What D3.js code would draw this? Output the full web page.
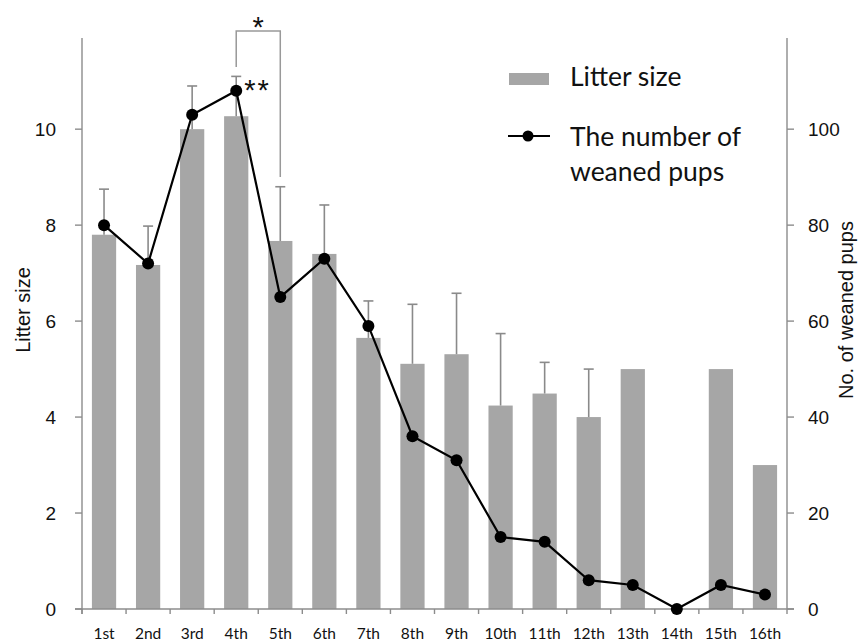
<!DOCTYPE html>
<html>
<head>
<meta charset="utf-8">
<script src="https://cdn.jsdelivr.net/npm/d3@7"></script>
<style>
  html, body { margin: 0; padding: 0; background: #fff; }
  svg { display: block; }
</style>
</head>
<body>
<svg id="chart" width="864" height="641"></svg>
<script>
// ---- data ----
const categories = ["1st","2nd","3rd","4th","5th","6th","7th","8th","9th","10th","11th","12th","13th","14th","15th","16th"];
const litterSize = [7.8, 7.17, 10.0, 10.27, 7.67, 7.4, 5.65, 5.11, 5.31, 4.24, 4.49, 4.0, 5.0, null, 5.0, 3.0];
const litterErr  = [0.95, 0.81, 0.9, 0.83, 1.13, 1.02, 0.77, 1.24, 1.27, 1.5, 0.65, 1.0, 0, 0, 0, 0];
const weanedPups = [80, 72, 103, 108, 65, 73, 59, 36, 31, 15, 14, 6, 5, 0, 5, 3];
const leftTicks  = [0, 2, 4, 6, 8, 10];
const rightTicks = [0, 20, 40, 60, 80, 100];
const legendLabels = ["Litter size", "The number of", "weaned pups"];

// ---- layout ----
const svg = d3.select("#chart");
const X0 = 82, X1 = 787, Y0 = 609, YT = 38;
const x = d3.scaleBand().domain(categories).range([X0, X1]).padding(0);
const yL = d3.scaleLinear().domain([0, 11.9]).range([Y0, YT]);
const yR = d3.scaleLinear().domain([0, 119]).range([Y0, YT]);
const barW = x.bandwidth() * 0.55;
const axisColor = "#8c8c8c";
const numFont = "'Liberation Sans', Arial, sans-serif";
const calFont = "Lato, 'Open Sans', sans-serif";

// bars
svg.append("g").selectAll("rect")
  .data(categories.map((c, i) => ({c, v: litterSize[i]})).filter(d => d.v !== null))
  .join("rect")
  .attr("x", d => x(d.c) + x.bandwidth()/2 - barW/2)
  .attr("y", d => yL(d.v))
  .attr("width", barW)
  .attr("height", d => Y0 - yL(d.v))
  .attr("fill", "#a6a6a6");

// error bars
const eg = svg.append("g").attr("stroke", "#8a8a8a").attr("stroke-width", 1.6);
categories.forEach((c, i) => {
  if (litterSize[i] === null || !litterErr[i]) return;
  const cx = x(c) + x.bandwidth()/2;
  const top = yL(litterSize[i] + litterErr[i]);
  eg.append("line").attr("x1", cx).attr("x2", cx).attr("y1", yL(litterSize[i])).attr("y2", top);
  eg.append("line").attr("x1", cx - 5).attr("x2", cx + 5).attr("y1", top).attr("y2", top);
});

// axes
const ag = svg.append("g").attr("stroke", axisColor).attr("stroke-width", 1.4).attr("fill", "none");
ag.append("line").attr("x1", X0).attr("x2", X0).attr("y1", YT).attr("y2", Y0 + 5);
ag.append("line").attr("x1", X1).attr("x2", X1).attr("y1", YT).attr("y2", Y0 + 5);
ag.append("line").attr("x1", X0 - 7).attr("x2", X1 + 7).attr("y1", Y0).attr("y2", Y0);
leftTicks.forEach(t => ag.append("line").attr("x1", X0 - 7).attr("x2", X0).attr("y1", yL(t)).attr("y2", yL(t)));
rightTicks.forEach(t => ag.append("line").attr("x1", X1).attr("x2", X1 + 7).attr("y1", yR(t)).attr("y2", yR(t)));
categories.forEach(c => ag.append("line").attr("x1", x(c)).attr("x2", x(c)).attr("y1", Y0).attr("y2", Y0 + 5));

// tick labels
svg.append("g").selectAll("text").data(leftTicks).join("text")
  .attr("x", X0 - 26).attr("y", d => yL(d)).attr("dy", "0.36em")
  .attr("text-anchor", "end").attr("font-family", numFont).attr("font-size", 19).attr("fill", "#111")
  .text(d => d);
svg.append("g").selectAll("text").data(rightTicks).join("text")
  .attr("x", X1 + 21).attr("y", d => yR(d)).attr("dy", "0.36em")
  .attr("text-anchor", "start").attr("font-family", numFont).attr("font-size", 19).attr("fill", "#111")
  .text(d => d);
svg.append("g").selectAll("text").data(categories).join("text")
  .attr("x", d => x(d) + x.bandwidth()/2).attr("y", 639)
  .attr("text-anchor", "middle").attr("font-family", calFont).attr("font-size", 15.5).attr("fill", "#111")
  .text(d => d);

// axis titles
svg.append("text").attr("transform", "translate(30,310) rotate(-90)")
  .attr("text-anchor", "middle").attr("font-family", numFont).attr("font-size", 20).attr("fill", "#111")
  .text("Litter size");
svg.append("text").attr("transform", "translate(853,310) rotate(-90)")
  .attr("text-anchor", "middle").attr("font-family", numFont).attr("font-size", 20).attr("fill", "#111")
  .text("No. of weaned pups");

// line + points
const pts = categories.map((c, i) => [x(c) + x.bandwidth()/2, yR(weanedPups[i])]);
svg.append("path").attr("d", d3.line()(pts)).attr("fill", "none").attr("stroke", "#000").attr("stroke-width", 2.2);
svg.append("g").selectAll("circle").data(pts).join("circle")
  .attr("cx", d => d[0]).attr("cy", d => d[1]).attr("r", 6).attr("fill", "#000");

// significance annotations
const c4 = x("4th") + x.bandwidth()/2, c5 = x("5th") + x.bandwidth()/2;
svg.append("path")
  .attr("d", `M${c4},67 V31 H${c5} V177`)
  .attr("fill", "none").attr("stroke", "#999").attr("stroke-width", 1.5);
svg.append("text").attr("x", (c4 + c5)/2).attr("y", 37).attr("text-anchor", "middle")
  .attr("font-family", numFont).attr("font-size", 29).attr("fill", "#111").text("*");
svg.append("text").attr("x", c4 + 8).attr("y", 100).attr("text-anchor", "start")
  .attr("font-family", numFont).attr("font-size", 29).attr("letter-spacing", 2).attr("fill", "#111").text("**");

// legend
const lg = svg.append("g");
lg.append("rect").attr("x", 509).attr("y", 73).attr("width", 40).attr("height", 12).attr("fill", "#a6a6a6");
lg.append("text").attr("x", 570).attr("y", 86).attr("font-family", calFont).attr("font-size", 26.5).attr("fill", "#111").text(legendLabels[0]);
lg.append("line").attr("x1", 508).attr("x2", 550).attr("y1", 136).attr("y2", 136).attr("stroke", "#000").attr("stroke-width", 2.2);
lg.append("circle").attr("cx", 528).attr("cy", 136).attr("r", 5.5).attr("fill", "#000");
lg.append("text").attr("x", 570).attr("y", 146).attr("font-family", calFont).attr("font-size", 26.5).attr("fill", "#111").text(legendLabels[1]);
lg.append("text").attr("x", 570).attr("y", 181).attr("font-family", calFont).attr("font-size", 26.5).attr("fill", "#111").text(legendLabels[2]);
</script>
</body>
</html>
